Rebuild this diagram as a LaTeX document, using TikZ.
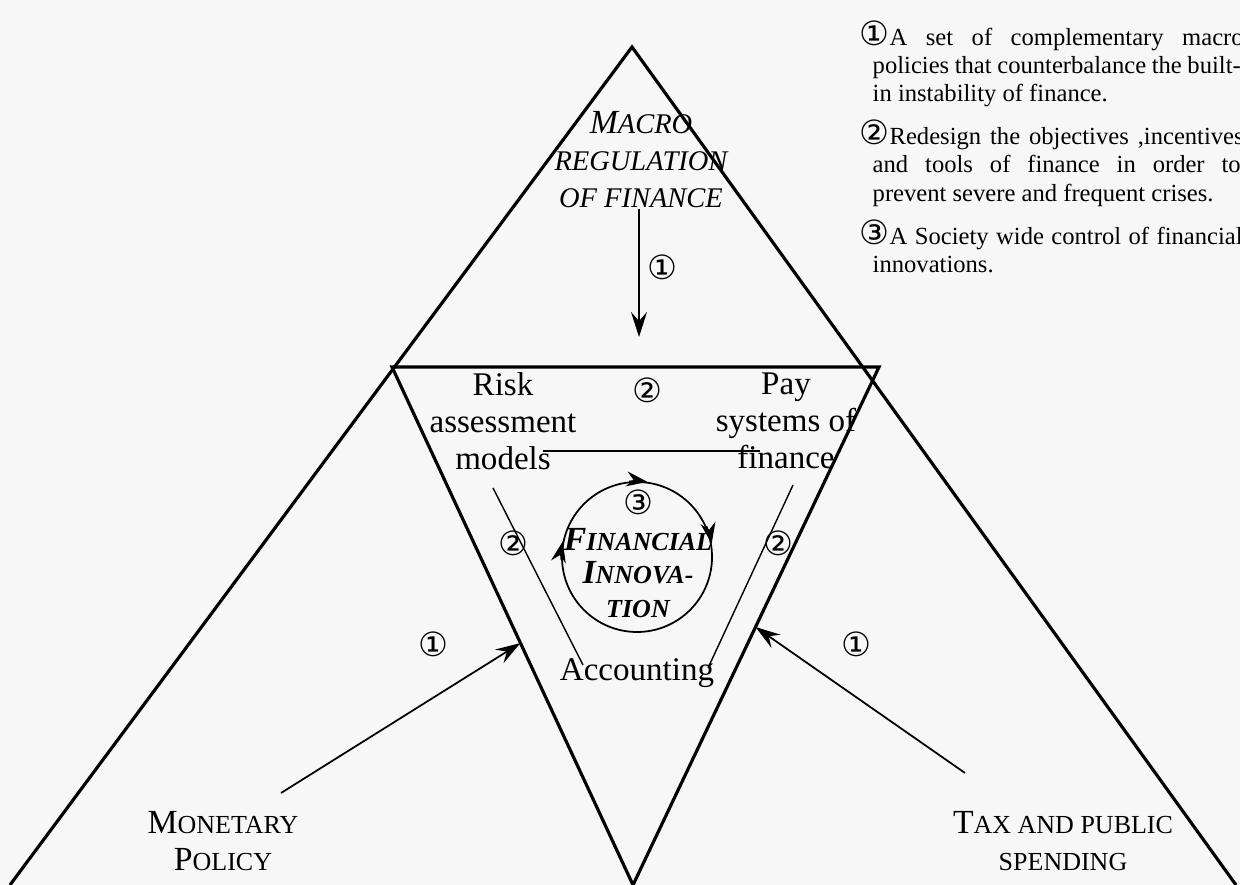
\documentclass[tikz,border=0pt]{standalone}
\usepackage{fontspec}
\setmainfont{Liberation Serif}
\newfontfamily\circfont{DejaVu Sans}
\usetikzlibrary{arrows.meta,calc}
\newcommand{\fsc}[2]{{\fontsize{9.6}{10.5}\selectfont #1}{\fontsize{7.4}{10.5}\selectfont #2}}
\newcommand{\fsci}[2]{{\fontsize{9.6}{10.5}\selectfont #1}{\fontsize{8.1}{10.5}\selectfont #2}}
\newcommand{\cnum}[1]{{\circfont\fontsize{9.5}{9}\selectfont #1}}
\tikzset{
  tri/.style={line width=0.9pt},
  thinln/.style={line width=0.4pt},
  arr/.style={line width=0.5pt,-{Stealth[length=2.5mm,width=1.6mm,inset=0.9mm]}},
  carr/.style={line width=0.5pt,-{Stealth[length=2.1mm,width=1.5mm,inset=0.7mm]}},
  lbl/.style={align=center,inner sep=0pt,font=\fontsize{9.4}{10.5}\selectfont},
  num/.style={inner sep=0pt,font=\circfont\fontsize{9.5}{10}\selectfont},
  legend/.style={align=left,inner sep=0pt,anchor=north west,font=\fontsize{7}{8}\selectfont}
}

\begin{document}
\begin{tikzpicture}[x=1mm,y=1mm]
\fill[black!3] (0,0) rectangle (124,88.5);
\useasboundingbox (0,0) rectangle (124,88.5);
\coordinate (top) at (63.2,83.8);
\coordinate (bl) at (1.0,0);
\coordinate (br) at (123.6,0);
\coordinate (ml) at (39.2,51.8);
\coordinate (mr) at (87.9,51.8);
\coordinate (bm) at (63.3,0);
\draw[tri] (bl) -- (top) -- (br);
\draw[tri] (ml) -- (mr) -- (bm) -- cycle;

\node[lbl,font=\itshape\fontsize{9.4}{10.5}\selectfont] (mrf) at (64.1,72.5) {\fsci{M}{ACRO}\\\fsci{}{REGULATION}\\\fsci{}{OF FINANCE}};
\coordinate (c1) at (63.9,54.8);
\draw[arr] (mrf.south -| c1) -- (c1);
\node[num] (n1a) at (66.2,61.8) {①};

\node[lbl] (ram) at (50.3,46.4) {Risk\\assessment\\models};
\node[lbl] (psf) at (78.6,46.4) {Pay\\systems of\\finance};
\node[num] (n2a) at (64.7,49.5) {②};
\coordinate (h1) at (54.3,43.4);
\coordinate (h2) at (76.0,43.4);
\draw[thinln] (h1) -- (h2);

\coordinate (l1) at (49.3,39.7);
\coordinate (l2) at (58.3,22.0);
\coordinate (r1) at (79.3,40.0);
\coordinate (r2) at (70.8,21.7);
\draw[thinln] (l1) -- (l2);
\draw[thinln] (r1) -- (r2);
\node[num] (n2b) at (51.3,34.2) {②};
\node[num] (n2c) at (77.8,34.2) {②};

\node[draw,circle,minimum size=15mm,inner sep=0pt,line width=0.5pt] (fi) at (63.7,32.8) {};
\node[num] (n3) at (63.8,38.3) {③};
\node[lbl,font=\bfseries\itshape\fontsize{9.4}{9.5}\selectfont] (fitxt) at (63.8,31.2) {\fsc{F}{INANCIAL}\\\fsc{I}{NNOVA-}\\\fsc{}{TION}};
\draw[carr] (fi.96) arc[start angle=96,end angle=82,radius=7.5mm];
\draw[carr] (fi.24) arc[start angle=24,end angle=10,radius=7.5mm];
\draw[carr] (fi.182) arc[start angle=182,end angle=168,radius=7.5mm];

\node[lbl] (acc) at (63.7,21.2) {Accounting};
\node[num] (n1b) at (43.3,24.1) {①};
\node[num] (n1c) at (85.6,24.1) {①};

\node[lbl] (mp) at (22.3,4.4) {\fsc{M}{ONETARY}\\\fsc{P}{OLICY}};
\node[lbl] (tps) at (106.3,4.4) {\fsc{T}{AX AND PUBLIC}\\\fsc{}{SPENDING}};
\coordinate (la) at ($(ml)!0.533!(bm)$);
\coordinate (ra) at ($(mr)!0.502!(bm)$);
\coordinate (mpt) at (28.1,9.2);
\coordinate (tpt) at (96.5,11.2);
\draw[arr] (mpt) -- (la);
\draw[arr] (tpt) -- (ra);

\node[legend] (leg) at (85.9,86.5) {%
\cnum{①}\makebox[35.4mm][s]{A set of complementary macro}\\
\hspace*{1.3mm}\makebox[36.8mm][s]{policies that counterbalance the built-}\\
\hspace*{1.3mm}in instability of finance.\\[2.8pt]
\cnum{②}\makebox[35.4mm][s]{Redesign the objectives ,incentives}\\
\hspace*{1.3mm}\makebox[36.8mm][s]{and tools of finance in order to}\\
\hspace*{1.3mm}prevent severe and frequent crises.\\[2.8pt]
\cnum{③}\makebox[35.3mm][s]{A Society wide control of financial}\\
\hspace*{1.3mm}innovations.};
\end{tikzpicture}
\end{document}
